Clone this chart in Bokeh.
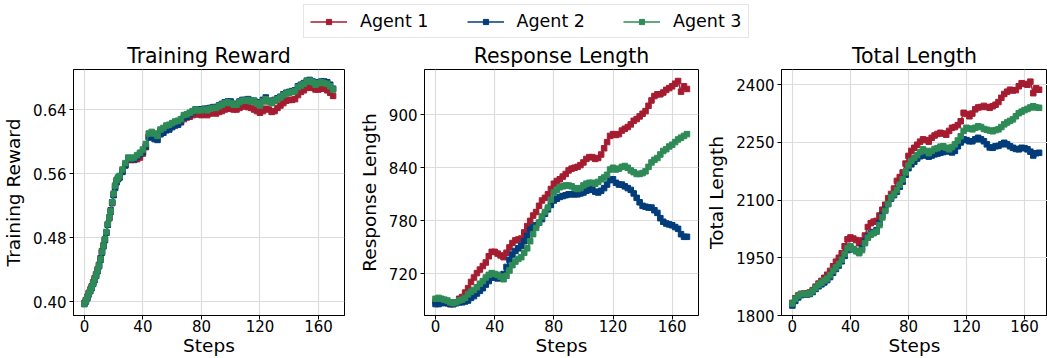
from bokeh.plotting import figure
from bokeh.layouts import column, row
from bokeh.models import Range1d, FixedTicker, PrintfTickFormatter, Legend, LegendItem
from bokeh.embed import file_html
from bokeh.resources import INLINE

FONT = "DejaVu Sans"

steps = list(range(0, 171, 2))
reward_steps = list(range(0, 24)) + list(range(24, 171, 2))
agents = ["Agent 1", "Agent 2", "Agent 3"]
colors = ["#A51C30", "#003D7A", "#2E8B57"]

# ---- Training Reward (every step up to 23, then every 2 steps) ----
reward_a1 = [
    0.398, 0.402, 0.406, 0.411, 0.415, 0.419, 0.424, 0.429, 0.434, 0.440,
    0.446, 0.454, 0.463, 0.470, 0.477, 0.486, 0.496, 0.504, 0.512, 0.523,
    0.534, 0.544, 0.551, 0.554,
    0.556, 0.563, 0.571, 0.577, 0.577, 0.577, 0.578, 0.580,
    0.585, 0.593, 0.606, 0.609, 0.608, 0.606, 0.613, 0.614, 0.616, 0.617,
    0.619, 0.621, 0.622, 0.624, 0.628, 0.630, 0.631, 0.633, 0.634, 0.634,
    0.633, 0.634, 0.633, 0.635, 0.636, 0.635, 0.637, 0.638, 0.640, 0.641,
    0.641, 0.640, 0.640, 0.642, 0.644, 0.644, 0.643, 0.642, 0.640, 0.638,
    0.636, 0.638, 0.641, 0.640, 0.637, 0.638, 0.642, 0.645, 0.648, 0.651,
    0.652, 0.652, 0.653, 0.658, 0.662, 0.664, 0.667, 0.668, 0.667, 0.665,
    0.665, 0.666, 0.666, 0.664, 0.661, 0.657]
reward_a2 = [
    0.397, 0.400, 0.404, 0.409, 0.413, 0.417, 0.422, 0.427, 0.432, 0.438,
    0.444, 0.452, 0.461, 0.469, 0.477, 0.486, 0.496, 0.505, 0.514, 0.524,
    0.533, 0.542, 0.549, 0.553,
    0.555, 0.562, 0.570, 0.578, 0.578, 0.578, 0.581, 0.584,
    0.587, 0.594, 0.605, 0.606, 0.603, 0.602, 0.609, 0.611, 0.614, 0.615,
    0.618, 0.620, 0.621, 0.625, 0.630, 0.631, 0.634, 0.637, 0.640, 0.640,
    0.640, 0.641, 0.641, 0.642, 0.643, 0.643, 0.645, 0.647, 0.649, 0.650,
    0.650, 0.647, 0.647, 0.650, 0.652, 0.652, 0.653, 0.651, 0.651, 0.649,
    0.647, 0.652, 0.655, 0.651, 0.649, 0.652, 0.654, 0.656, 0.659, 0.661,
    0.662, 0.663, 0.664, 0.669, 0.671, 0.673, 0.676, 0.677, 0.675, 0.672,
    0.674, 0.675, 0.675, 0.674, 0.671, 0.666]
reward_a3 = [
    0.397, 0.401, 0.405, 0.410, 0.414, 0.418, 0.423, 0.428, 0.433, 0.439,
    0.445, 0.453, 0.462, 0.470, 0.478, 0.487, 0.497, 0.505, 0.513, 0.524,
    0.535, 0.545, 0.552, 0.555,
    0.557, 0.565, 0.573, 0.580, 0.579, 0.580, 0.583, 0.586,
    0.590, 0.597, 0.610, 0.612, 0.610, 0.607, 0.615, 0.617, 0.620, 0.621,
    0.623, 0.625, 0.626, 0.628, 0.633, 0.634, 0.636, 0.638, 0.640, 0.639,
    0.639, 0.640, 0.639, 0.641, 0.642, 0.642, 0.644, 0.646, 0.648, 0.649,
    0.648, 0.646, 0.646, 0.649, 0.651, 0.651, 0.652, 0.650, 0.651, 0.648,
    0.645, 0.650, 0.653, 0.650, 0.648, 0.651, 0.653, 0.655, 0.658, 0.660,
    0.661, 0.662, 0.663, 0.668, 0.670, 0.672, 0.675, 0.676, 0.674, 0.671,
    0.673, 0.674, 0.673, 0.672, 0.669, 0.665]

# ---- Response Length (every 2 steps) ----
resp_a1 = [
    689, 690, 689, 688, 687, 686, 686, 688, 692, 694,
    699, 704, 711, 716, 721, 725, 729, 733, 740, 745,
    745, 743, 741, 739, 744, 750, 755, 758, 759, 760,
    767, 774, 780, 786, 790, 797, 803, 806, 810, 816,
    822, 825, 827, 830, 833, 837, 839, 840, 841, 843,
    846, 850, 852, 852, 850, 851, 855, 862, 869, 876,
    878, 877, 878, 882, 884, 886, 889, 893, 895, 898,
    901, 904, 910, 916, 921, 923, 923, 925, 928, 930,
    932, 935, 938, 926, 932, 929]
resp_a2 = [
    686, 686, 687, 688, 687, 686, 686, 687, 688, 688,
    689, 690, 693, 695, 698, 701, 704, 708, 712, 716,
    716, 715, 716, 720, 728, 736, 742, 746, 749, 752,
    757, 763, 770, 773, 775, 778, 782, 788, 793, 798,
    803, 805, 807, 808, 809, 810, 810, 810, 810, 811,
    812, 814, 815, 816, 813, 812, 814, 817, 821, 826,
    827, 823, 821, 821, 819, 817, 815, 811, 806, 801,
    797, 796, 795, 795, 792, 789, 783, 779, 777, 776,
    775, 773, 771, 765, 762, 762]
resp_a3 = [
    692, 693, 692, 691, 690, 688, 687, 688, 690, 691,
    693, 697, 700, 702, 705, 709, 712, 716, 719, 721,
    720, 719, 717, 714, 718, 724, 730, 734, 737, 739,
    744, 749, 757, 765, 772, 778, 785, 790, 795, 804,
    812, 815, 818, 819, 820, 820, 819, 817, 816, 817,
    820, 822, 823, 823, 822, 824, 827, 829, 832, 838,
    840, 838, 839, 841, 842, 840, 837, 835, 833, 833,
    834, 836, 841, 846, 849, 851, 855, 859, 861, 864,
    866, 869, 872, 874, 876, 878]

# ---- Total Length (every 2 steps) ----
total_a1 = [
    1833, 1845, 1852, 1856, 1857, 1857, 1860, 1866, 1875, 1883,
    1890, 1898, 1906, 1916, 1928, 1940, 1950, 1962, 1980, 1998,
    2003, 2000, 1996, 1988, 1995, 2008, 2030, 2040, 2044, 2046,
    2060, 2075, 2088, 2105, 2116, 2130, 2150, 2160, 2172, 2195,
    2215, 2228, 2236, 2244, 2252, 2258, 2256, 2252, 2262, 2268,
    2272, 2275, 2273, 2270, 2280, 2288, 2290, 2295, 2305, 2327,
    2324, 2318, 2325, 2336, 2341, 2342, 2345, 2342, 2340, 2344,
    2348, 2355, 2366, 2376, 2382, 2387, 2385, 2386, 2396, 2404,
    2402, 2400, 2408, 2378, 2391, 2387]
total_a2 = [
    1826, 1838, 1847, 1853, 1854, 1854, 1856, 1861, 1869, 1876,
    1881, 1886, 1892, 1900, 1911, 1921, 1930, 1941, 1955, 1970,
    1976, 1972, 1968, 1965, 1975, 1992, 2005, 2013, 2017, 2022,
    2040, 2060, 2075, 2090, 2104, 2113, 2122, 2135, 2148, 2166,
    2183, 2193, 2200, 2208, 2214, 2219, 2216, 2213, 2216, 2219,
    2221, 2223, 2225, 2227, 2227, 2224, 2228, 2240, 2250, 2258,
    2256, 2253, 2253, 2258, 2262, 2258, 2253, 2245, 2237, 2236,
    2240, 2241, 2245, 2249, 2245, 2240, 2236, 2233, 2232, 2236,
    2235, 2232, 2226, 2216, 2222, 2223]
total_a3 = [
    1831, 1843, 1851, 1856, 1856, 1855, 1858, 1864, 1872, 1880,
    1885, 1891, 1896, 1905, 1916, 1925, 1934, 1945, 1960, 1975,
    1980, 1973, 1967, 1962, 1970, 1988, 2002, 2010, 2014, 2018,
    2035, 2055, 2072, 2090, 2107, 2116, 2126, 2140, 2154, 2172,
    2190, 2202, 2210, 2217, 2225, 2232, 2228, 2222, 2228, 2233,
    2235, 2239, 2240, 2236, 2232, 2238, 2245, 2255, 2266, 2280,
    2288, 2286, 2284, 2288, 2292, 2290, 2285, 2283, 2281, 2279,
    2282, 2284, 2290, 2297, 2302, 2306, 2310, 2318, 2326, 2330,
    2334, 2337, 2341, 2344, 2341, 2340]

x_ticks = [0, 40, 80, 120, 160]
reward_ticks = [0.40, 0.48, 0.56, 0.64]
resp_ticks = [720, 780, 840, 900]
total_ticks = [1800, 1950, 2100, 2250, 2400]


def make_panel(title, ylabel, xs, series, yr, yticks, fmt, xr, width, left, right):
    p = figure(width=width, height=318, x_range=Range1d(*xr), y_range=Range1d(*yr),
               output_backend="svg", toolbar_location=None, title=title,
               min_border_left=left, min_border_right=right,
               min_border_top=28, min_border_bottom=43)
    p.title.align = "center"
    p.title.text_font = FONT
    p.title.text_font_size = "20.5px"
    p.title.text_font_style = "normal"
    p.title.text_color = "black"
    p.title.standoff = 3
    p.background_fill_color = "white"
    p.border_fill_color = "white"
    p.outline_line_color = "black"
    p.outline_line_width = 1
    p.outline_line_alpha = 1

    p.xaxis.ticker = FixedTicker(ticks=x_ticks)
    p.yaxis.ticker = FixedTicker(ticks=yticks)
    p.yaxis.formatter = PrintfTickFormatter(format=fmt)
    p.xaxis.axis_label = "Steps"
    p.yaxis.axis_label = ylabel
    for ax in (p.xaxis[0], p.yaxis[0]):
        ax.axis_label_text_font = FONT
        ax.axis_label_text_font_size = "18.5px"
        ax.axis_label_text_font_style = "normal"
        ax.axis_label_text_color = "black"
        ax.major_label_text_font = FONT
        ax.major_label_text_font_size = "15px"
        ax.major_label_text_color = "black"
        ax.major_tick_in = 0
        ax.major_tick_out = 4
        ax.major_tick_line_color = "black"
        ax.minor_tick_line_color = None
        ax.axis_line_color = "black"
    p.xaxis.major_label_standoff = 0
    p.xaxis.axis_label_standoff = 0
    p.yaxis.major_label_standoff = 3
    p.yaxis.axis_label_standoff = 6

    p.xgrid.ticker = FixedTicker(ticks=x_ticks)
    p.ygrid.ticker = FixedTicker(ticks=yticks)
    p.grid.grid_line_color = "#dcdcdc"
    p.grid.grid_line_width = 1.2

    for vals, c in zip(series, colors):
        p.line(xs, vals, color=c, line_width=1.5)
        p.scatter(xs, vals, marker="square", size=5.5, color=c)
    return p


p1 = make_panel("Training Reward", "Training Reward", reward_steps,
                [reward_a1, reward_a2, reward_a3],
                (0.3826, 0.690), reward_ticks, "%.2f", (-7.45, 177.8), 355, 70, 11)
p2 = make_panel("Response Length", "Response Length", steps,
                [resp_a1, resp_a2, resp_a3],
                (673.1, 951.0), resp_ticks, "%d", (-7.45, 177.8), 348, 68, 5)
p3 = make_panel("Total Length", "Total Length", steps,
                [total_a1, total_a2, total_a3],
                (1800, 2439.6), total_ticks, "%d", (-7.5, 175.8), 344, 73, 0)

# ---- legend strip ----
lf = figure(width=1047, height=40, x_range=Range1d(0, 1), y_range=Range1d(0, 1),
            output_backend="svg", toolbar_location=None,
            x_axis_location=None, y_axis_location=None, min_border=0)
lf.grid.visible = False
lf.outline_line_color = None
items = []
for a, c in zip(agents, colors):
    r1 = lf.line(x=[-5, -4], y=[-5, -4], color=c, line_width=1.5)
    r2 = lf.scatter(x=[-5], y=[-5], marker="square", size=5.5, color=c)
    items.append(LegendItem(label=a, renderers=[r1, r2]))
leg = Legend(items=items, orientation="horizontal", location=(303, 2),
             label_text_font=FONT, label_text_font_size="17.5px", label_text_color="black",
             glyph_width=37, glyph_height=13, label_height=20, label_standoff=13,
             spacing=38, padding=6, margin=0,
             border_line_color="#cccccc", border_line_width=1,
             background_fill_color="white", background_fill_alpha=1)
lf.add_layout(leg, "center")

layout = column(lf, row(p1, p2, p3))
open("out.html", "w").write(file_html(layout, INLINE))
